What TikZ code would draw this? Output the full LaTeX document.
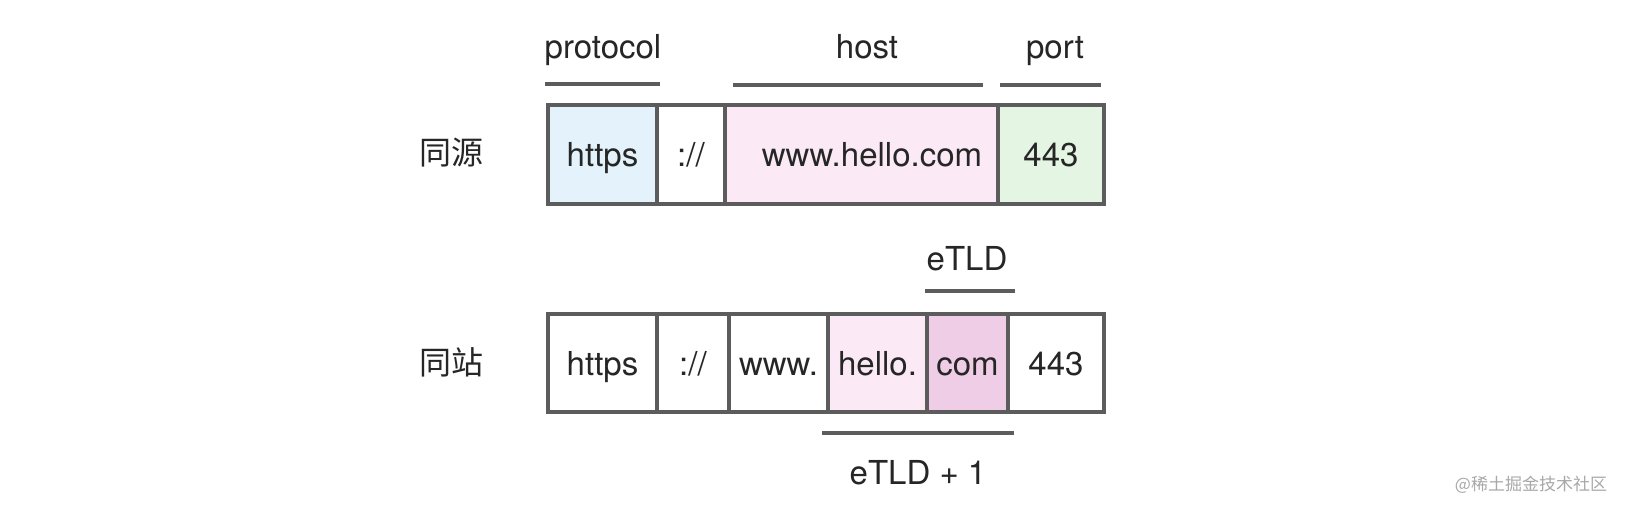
\documentclass[tikz,border=0pt]{standalone}
\usepackage{fontspec}
\setmainfont{TeX Gyre Heros}
\newfontfamily\cjk{Noto Sans CJK SC}
\definecolor{txt}{HTML}{262626}
\definecolor{edge}{HTML}{5C5C5C}
\definecolor{fblue}{HTML}{E3F2FB}
\definecolor{fpink}{HTML}{FBEAF5}
\definecolor{fgreen}{HTML}{E5F5E4}
\definecolor{fpinkdk}{HTML}{F0CDE6}
\definecolor{wm}{HTML}{A8A8A8}
\begin{document}
\begin{tikzpicture}[x=1pt,y=-1pt,
  cell/.style={draw=edge, line width=4pt, inner sep=0pt, text height=24pt, text depth=0pt,
    font=\fontsize{33}{40}\selectfont, text=txt},
  lbl/.style={anchor=base, inner sep=0pt, font=\fontsize{33}{40}\selectfont, text=txt},
  rowlbl/.style={inner sep=0pt, font=\cjk\fontsize{32}{40}\selectfont, text=txt},
  bar/.style={draw=edge, line width=4.5pt}]
\useasboundingbox[fill=white] (0,0) rectangle (1630,516);
% row 1
\node[cell, fill=fblue, minimum width=109pt, minimum height=99pt] (a1) at (602.5,154.5) {https};
\node[cell, fill=white, minimum width=68pt, minimum height=99pt] (a2) at (691,154.5) {://};
\node[cell, fill=fpink, minimum width=273pt, minimum height=99pt] (a3) at (861.5,154.5) {\hspace*{21pt}www.hello.com};
\node[cell, fill=fgreen, minimum width=106pt, minimum height=99pt] (a4) at (1051,154.5) {443};
% row 2
\node[cell, fill=white, minimum width=109pt, minimum height=98pt] (b1) at (602.5,363) {https};
\node[cell, fill=white, minimum width=72pt, minimum height=98pt] (b2) at (693,363) {://};
\node[cell, fill=white, minimum width=99pt, minimum height=98pt] (b3) at (778.5,363) {www.};
\node[cell, fill=fpink, minimum width=99pt, minimum height=98pt] (b4) at (877.5,363) {hello.};
\node[cell, fill=fpinkdk, minimum width=81pt, minimum height=98pt] (b5) at (967.5,363) {com};
\node[cell, fill=white, minimum width=96pt, minimum height=98pt] (b6) at (1056,363) {443};
% row labels
\node[rowlbl] (r1) at (451,153) {同源};
\node[rowlbl] (r2) at (451,362) {同站};
% top labels and bars
\node[lbl] (lp) at (603,59) {protocol};
\node[lbl] (lh) at (867,59) {host};
\node[lbl] (lo) at (1055,59) {port};
\draw[bar] ([xshift=-1pt,yshift=19pt]a1.north west) -- ([xshift=1pt,yshift=19pt]a1.north east);
\draw[bar] ([xshift=10pt,yshift=18pt]a3.north west) -- ([xshift=-17pt,yshift=18pt]a3.north east);
\draw[bar] ([xshift=4pt,yshift=18pt]a4.north west) -- ([xshift=-5pt,yshift=18pt]a4.north east);
% eTLD
\node[lbl] (le) at (967,270) {eTLD};
\draw[bar] ([yshift=21pt]b5.north west) -- ([xshift=5pt,yshift=21pt]b5.north east);
% eTLD + 1
\draw[bar] ([xshift=-4pt,yshift=-19pt]b4.south west) -- ([xshift=4pt,yshift=-19pt]b5.south east);
\node[lbl] (le1) at (918,484) {eTLD + 1};
% watermark
\node[inner sep=0pt, font=\cjk\fontsize{17}{20}\selectfont, text=wm] (w) at (1531,485) {@稀土掘金技术社区};
\end{tikzpicture}
\end{document}
